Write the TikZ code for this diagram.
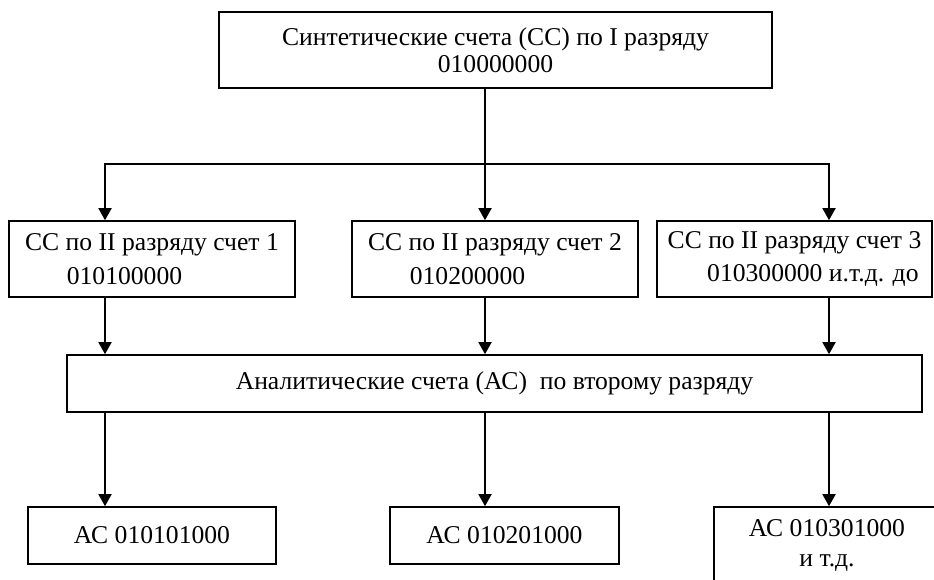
\documentclass[tikz,border=0pt]{standalone}
\usepackage{fontspec}
\setmainfont{Liberation Serif}
\usetikzlibrary{arrows.meta}

\begin{document}
\begin{tikzpicture}[x=0.48pt, y=-0.48pt,
    box/.style={draw, line width=0.7pt, inner sep=0pt, font=\fontsize{12.3}{13}\selectfont},
    link/.style={line width=1pt},
    arr/.style={line width=1pt, -{Triangle[width=6.2pt,length=5.8pt]}}]
    \clip (0,0) rectangle (934,579);

    \node[box, align=center, minimum width=265.4pt, minimum height=36.5pt] (top) at (495.5,50)
        {Синтетические счета (СС) по I разряду\\010000000};

    \node[box, align=left, minimum width=137.3pt, minimum height=36.5pt] (cc1) at (152,259)
        {СС по II разряду счет 1\\[3pt]\hspace*{20pt}010100000};
    \node[box, align=left, minimum width=137.3pt, minimum height=36.5pt] (cc2) at (495,259)
        {СС по II разряду счет 2\\[3pt]\hspace*{20pt}010200000};
    \node[box, align=left, minimum width=132pt, minimum height=36.5pt] (cc3) at (794.5,259)
        {СС по II разряду счет 3\\[3pt]\hspace*{19pt}010300000 и.т.д. до};

    \node[box, minimum width=410.4pt, minimum height=27.4pt] (ac) at (494.5,383.5)
        {Аналитические счета (АС) \ по второму разряду};

    \node[box, minimum width=119pt, minimum height=27.4pt] (ac1) at (152,535.5) {АС 010101000};
    \node[box, minimum width=110pt, minimum height=27.4pt] (ac2) at (504.5,535.5) {АС 010201000};
    \node[box, align=center, minimum width=108.5pt, minimum height=36.5pt] (ac3) at (827,545)
        {АС 010301000\\[1.4pt]и т.д.};

    \coordinate (c1) at (105,164);
    \coordinate (c2) at (485,164);
    \coordinate (c3) at (829,164);

    \draw[link] (c2 |- top.south) -- (c2);
    \draw[link, line cap=rect] (c1) -- (c3);
    \draw[arr] (c1) -- (c1 |- cc1.north);
    \draw[arr] (c2) -- (c2 |- cc2.north);
    \draw[arr] (c3) -- (c3 |- cc3.north);

    \draw[arr] (c1 |- cc1.south) -- (c1 |- ac.north);
    \draw[arr] (c2 |- cc2.south) -- (c2 |- ac.north);
    \draw[arr] (c3 |- cc3.south) -- (c3 |- ac.north);

    \draw[arr] (c1 |- ac.south) -- (c1 |- ac1.north);
    \draw[arr] (c2 |- ac.south) -- (c2 |- ac2.north);
    \draw[arr] (c3 |- ac.south) -- (c3 |- ac3.north);
\end{tikzpicture}
\end{document}
